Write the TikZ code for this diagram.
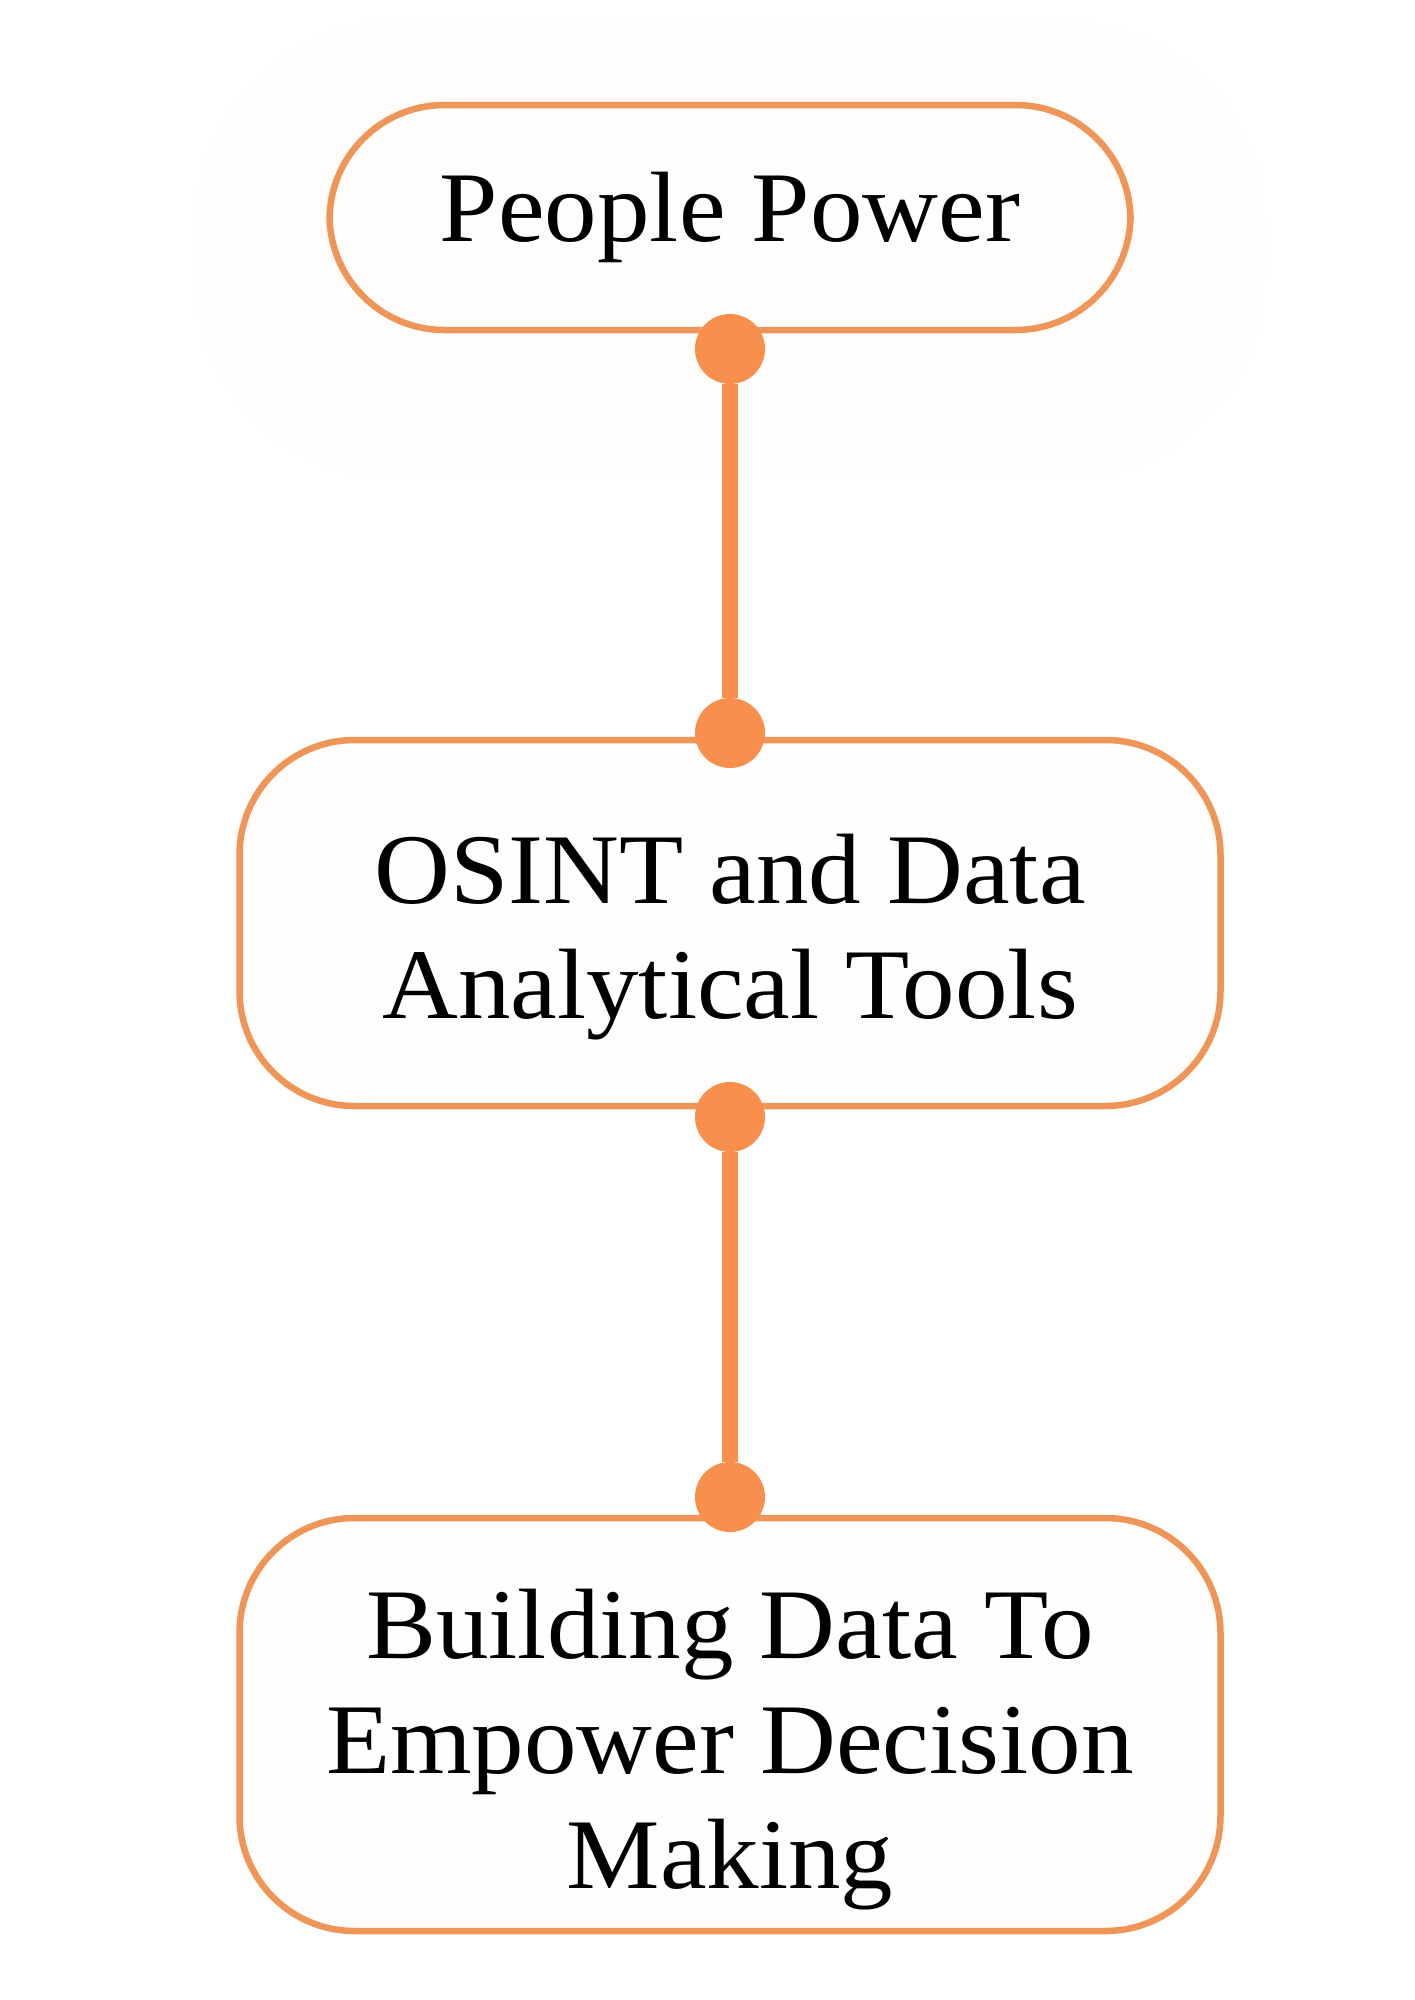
\documentclass[tikz,border=0pt]{standalone}
\usepackage{fontspec}
\setmainfont[FakeStretch=1.05]{Liberation Serif}
\definecolor{edgeor}{HTML}{EF9558}
\definecolor{dotor}{HTML}{F98F4C}
\definecolor{glowA}{HTML}{FFFEFD}
\definecolor{glowB}{HTML}{FFFDFB}
\definecolor{boxfill}{HTML}{FFFEFD}
\tikzset{
  stepbox/.style={draw=edgeor, line width=6.5pt, fill=boxfill, rounded corners=115pt,
    inner sep=0pt, align=center, text=black,
    font=\fontsize{100}{115}\selectfont},
  dotnode/.style={circle, fill=dotor, minimum size=70pt, inner sep=0pt},
  conn/.style={draw=dotor, line width=16pt}
}
\begin{document}
\begin{tikzpicture}[x=1pt,y=-1pt]
\useasboundingbox (0,0) rectangle (1414,2000);
\fill[white] (0,0) rectangle (1414,2000);
% faint glow behind the first box
\fill[glowA, rounded corners=200pt] (195,20) rectangle (1265,480);
\fill[glowB, rounded corners=170pt] (255,55) rectangle (1205,440);
% boxes
\node[stepbox, minimum width=801pt, minimum height=225pt] (b1) at (730,217.5) {People Power};
\node[stepbox, minimum width=981pt, minimum height=366pt] (b2) at (730,923) {\rule{0pt}{98pt}OSINT and Data\\Analytical Tools};
\node[stepbox, minimum width=981pt, minimum height=413pt] (b3) at (730,1724.5) {\rule{0pt}{119pt}Building Data To\\Empower Decision\\Making};
% dots
\node[dotnode] (d1) at (730,349) {};
\node[dotnode] (d2) at (730,733) {};
\node[dotnode] (d3) at (730,1117) {};
\node[dotnode] (d4) at (730,1497) {};
% connectors
\draw[conn] (d1) -- (d2);
\draw[conn] (d3) -- (d4);
\end{tikzpicture}
\end{document}
